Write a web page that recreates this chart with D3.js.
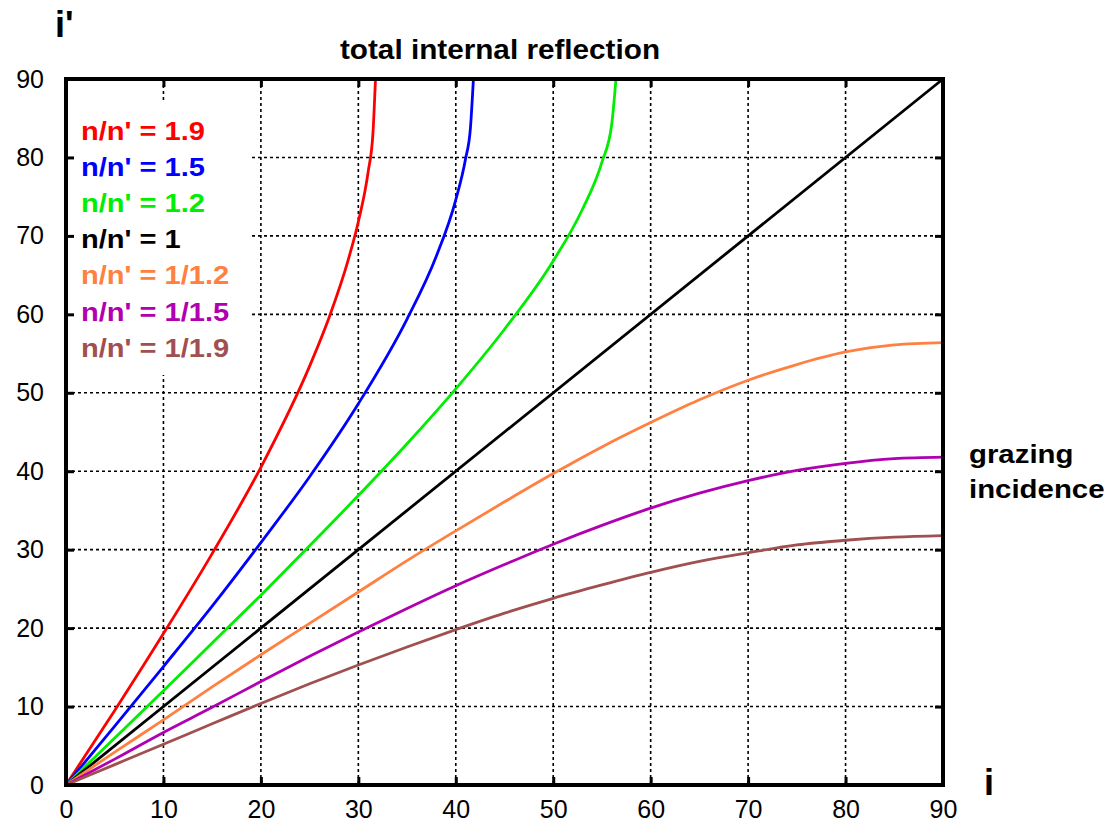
<!DOCTYPE html>
<html>
<head>
<meta charset="utf-8">
<script src="https://cdn.jsdelivr.net/npm/d3@7"></script>
<style>
  html, body { margin: 0; padding: 0; background: #fff; }
  svg { display: block; font-family: "Liberation Sans", Arial, Helvetica, sans-serif; }
</style>
</head>
<body>
<svg id="chart" width="1116" height="822"></svg>
<script>
// ---- data ----
const xTicks = [0, 10, 20, 30, 40, 50, 60, 70, 80, 90];
const yTicks = [0, 10, 20, 30, 40, 50, 60, 70, 80, 90];

const seriesNames = ["n/n' = 1.9", "n/n' = 1.5", "n/n' = 1.2", "n/n' = 1", "n/n' = 1/1.2", "n/n' = 1/1.5", "n/n' = 1/1.9"];
const seriesColors = ["#ff0000", "#0000ff", "#00ee00", "#000000", "#ff8040", "#b000b0", "#a05050"];

const i_19 = [0, 5, 10, 15, 20, 25, 27, 29, 30, 31, 31.5, 31.76];
const r_19 = [0, 9.5, 19.3, 29.5, 40.5, 53.4, 59.6, 67.1, 71.8, 78.1, 83.1, 90];

const i_15 = [0, 5, 10, 15, 20, 25, 30, 35, 38, 40, 41, 41.5, 41.81];
const r_15 = [0, 7.5, 15.1, 22.8, 30.9, 39.3, 48.6, 59.4, 67.4, 74.6, 79.8, 83.7, 90];

const i_12 = [0, 5, 10, 15, 20, 25, 30, 35, 40, 45, 50, 53, 55, 56, 56.44];
const r_12 = [0, 6.0, 12.0, 18.1, 24.2, 30.5, 36.9, 43.5, 50.5, 58.1, 66.8, 73.4, 79.4, 84.2, 90];

const i_10 = [0, 90];
const r_10 = [0, 90];

const i_full = [0, 5, 10, 15, 20, 25, 30, 35, 40, 45, 50, 55, 60, 65, 70, 75, 80, 85, 90];
const r_083 = [0, 4.2, 8.3, 12.5, 16.6, 20.6, 24.6, 28.6, 32.4, 36.1, 39.7, 43.1, 46.2, 49.1, 51.6, 53.6, 55.2, 56.1, 56.4];
const r_067 = [0, 3.3, 6.7, 9.9, 13.2, 16.4, 19.5, 22.5, 25.4, 28.1, 30.7, 33.1, 35.3, 37.2, 38.8, 40.1, 41.0, 41.6, 41.8];
const r_053 = [0, 2.6, 5.2, 7.8, 10.4, 12.9, 15.3, 17.6, 19.8, 21.9, 23.8, 25.5, 27.1, 28.5, 29.6, 30.6, 31.2, 31.6, 31.8];

const seriesX = [i_19, i_15, i_12, i_10, i_full, i_full, i_full];
const seriesY = [r_19, r_15, r_12, r_10, r_083, r_067, r_053];

const titleText = "total internal reflection";
const yAxisLabel = "i'";
const xAxisLabel = "i";
const noteLines = ["grazing", "incidence"];

// ---- layout ----
const svg = d3.select("#chart");
const L = 66, R = 943, T = 79, B = 785;
const x = d3.scaleLinear().domain([0, 90]).range([L, R]);
const y = d3.scaleLinear().domain([0, 90]).range([B, T]);

// grid
const grid = svg.append("g").attr("stroke", "#000").attr("stroke-width", 1.6).attr("stroke-dasharray", "3,3");
grid.selectAll("line.v").data(xTicks.filter(d => d > 0 && d < 90)).enter().append("line")
  .attr("x1", d => x(d)).attr("x2", d => x(d)).attr("y1", T).attr("y2", B);
grid.selectAll("line.h").data(yTicks.filter(d => d > 0 && d < 90)).enter().append("line")
  .attr("y1", d => y(d)).attr("y2", d => y(d)).attr("x1", L).attr("x2", R);

// legend background (covers the grid behind the key)
svg.append("rect").attr("x", L + 2).attr("y", 103).attr("width", 182).attr("height", 272).attr("fill", "#fff");

// curves
const line = d3.line().x(d => x(d[0])).y(d => y(d[1])).curve(d3.curveMonotoneX);
seriesX.forEach((xs, k) => {
  const pts = xs.map((v, j) => [v, seriesY[k][j]]);
  svg.append("path").datum(pts)
    .attr("d", line)
    .attr("fill", "none")
    .attr("stroke", seriesColors[k])
    .attr("stroke-width", 2.8)
    .attr("stroke-linejoin", "round");
});

// axes (inward ticks)
function styleAxis(g) {
  g.select(".domain").remove();
  g.selectAll(".tick line").attr("stroke", "#000").attr("stroke-width", 3);
  g.selectAll(".tick text").attr("fill", "#000").attr("font-size", 25)
    .attr("font-family", "'Liberation Sans', Arial, sans-serif");
}
svg.append("g").attr("transform", `translate(0,${B})`)
  .call(d3.axisBottom(x).tickValues(xTicks).tickSize(-8).tickPadding(15).tickFormat(d3.format("d")))
  .call(styleAxis);
svg.append("g").attr("transform", `translate(${L},0)`)
  .call(d3.axisLeft(y).tickValues(yTicks).tickSize(-8).tickPadding(22).tickFormat(d3.format("d")))
  .call(styleAxis);
svg.append("g").attr("transform", `translate(0,${T})`)
  .call(d3.axisTop(x).tickValues(xTicks).tickSize(-8).tickFormat(""))
  .call(styleAxis);
svg.append("g").attr("transform", `translate(${R},0)`)
  .call(d3.axisRight(y).tickValues(yTicks).tickSize(-8).tickFormat(""))
  .call(styleAxis);

// frame
svg.append("rect").attr("x", L).attr("y", T).attr("width", R - L).attr("height", B - T)
  .attr("fill", "none").attr("stroke", "#000").attr("stroke-width", 4);

// bold stretched text helper
function boldText(txt, px, py, size, color, anchor, sx) {
  svg.append("text")
    .attr("transform", `translate(${px},${py}) scale(${sx},1)`)
    .attr("text-anchor", anchor)
    .attr("font-weight", "bold")
    .attr("font-size", size)
    .attr("fill", color)
    .text(txt);
}

boldText(titleText, 500, 59, 27, "#000", "middle", 1.1);
boldText(yAxisLabel, 55, 37, 36, "#000", "start", 1.0);
boldText(xAxisLabel, 984, 795, 36, "#000", "start", 1.0);
boldText(noteLines[0], 969, 463, 26, "#000", "start", 1.13);
boldText(noteLines[1], 969, 498, 26, "#000", "start", 1.13);

// legend
seriesNames.forEach((name, k) => {
  boldText(name, 81, 140 + k * 36.1, 25.5, seriesColors[k], "start", 1.14);
});
</script>
</body>
</html>
